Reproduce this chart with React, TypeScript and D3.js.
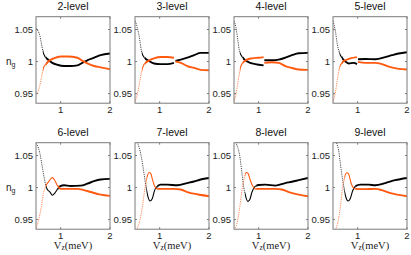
import { useEffect, useRef } from 'react';
import * as d3 from 'd3';

// panel titles
const levels = ['2-level', '3-level', '4-level', '5-level', '6-level', '7-level', '8-level', '9-level'];

const xTicks = [1, 2];
const yTicks = [0.95, 1, 1.05];
const yTickLabels = ['0.95', '1', '1.05'];

type Pt = [number, number | null];

// black curve per panel ([Vz, n_g], null = gap)
const blackSeries: Pt[][] = [
  [[0.5, 1.052], [0.54, 1.048], [0.58, 1.04], [0.61, 1.028], [0.64, 1.016], [0.68, 1.008], [0.73, 1.004], [0.83, 0.998], [0.93, 0.995], [1.07, 0.993], [1.2, 0.993], [1.34, 0.994], [1.44, 0.998], [1.54, 1.002], [1.68, 1.006], [1.81, 1.01], [2.0, 1.0125]],
  [[0.5, 1.0635], [0.547, 1.053], [0.6, 1.032], [0.628, 1.017], [0.68, 1.007], [0.78, 1.001], [0.885, 0.997], [1.02, 0.996], [1.155, 0.996], [1.29, 0.998], [1.305, null], [1.32, 1.001], [1.43, 1.003], [1.56, 1.006], [1.7, 1.01], [1.83, 1.0135], [2.0, 1.0135]],
  [[0.5, 1.0635], [0.54, 1.053], [0.58, 1.032], [0.608, 1.017], [0.66, 1.008], [0.73, 1.002], [0.83, 0.998], [0.93, 0.996], [1.1, 0.994], [1.107, null], [1.115, 1.002], [1.27, 1.002], [1.405, 1.003], [1.54, 1.006], [1.676, 1.01], [1.81, 1.013], [2.0, 1.0135]],
  [[0.5, 1.0635], [0.547, 1.048], [0.588, 1.027], [0.628, 1.014], [0.682, 1.006], [0.75, 1.0], [0.818, 0.997], [0.919, 0.998], [0.986, 0.996], [0.996, null], [1.007, 1.0035], [1.155, 1.004], [1.36, 1.0035], [1.56, 1.007], [1.7, 1.01], [1.83, 1.0125], [2.0, 1.0145]],
  [[0.5, 1.069], [0.527, 1.066], [0.58, 1.053], [0.628, 1.032], [0.662, 1.017], [0.696, 1.0035], [0.73, 0.997], [0.784, 0.993], [0.83, 0.988], [0.878, 0.991], [0.93, 0.997], [0.986, 1.002], [1.07, 1.0035], [1.2, 1.0025], [1.405, 1.003], [1.54, 1.006], [1.676, 1.01], [1.81, 1.0125], [2.0, 1.0135]],
  [[0.51, 1.074], [0.58, 1.0635], [0.628, 1.048], [0.682, 1.022], [0.723, 1.001], [0.764, 0.9855], [0.804, 0.979], [0.851, 0.983], [0.899, 0.996], [0.953, 1.002], [1.02, 1.0045], [1.155, 1.0045], [1.358, 1.0035], [1.56, 1.007], [1.696, 1.0095], [1.83, 1.0125], [2.0, 1.015]],
  [[0.5, 1.073], [0.56, 1.066], [0.608, 1.053], [0.662, 1.022], [0.696, 1.001], [0.73, 0.988], [0.777, 0.9785], [0.818, 0.981], [0.865, 0.993], [0.919, 1.001], [1.0, 1.004], [1.135, 1.0045], [1.34, 1.003], [1.54, 1.007], [1.676, 1.009], [1.81, 1.0115], [2.0, 1.015]],
  [[0.56, 1.073], [0.58, 1.068], [0.615, 1.058], [0.649, 1.0375], [0.696, 1.0115], [0.736, 0.993], [0.77, 0.983], [0.804, 0.979], [0.851, 0.983], [0.899, 0.995], [0.953, 1.002], [1.054, 1.0045], [1.22, 1.0045], [1.358, 1.0035], [1.56, 1.007], [1.76, 1.0115], [2.0, 1.015]],
];

// orange curve per panel
const orangeSeries: Pt[][] = [
  [[0.5, 0.949], [0.56, 0.957], [0.61, 0.975], [0.65, 0.99], [0.7, 0.996], [0.76, 1.001], [0.86, 1.005], [1.0, 1.008], [1.135, 1.008], [1.34, 1.006], [1.44, 1.001], [1.54, 0.997], [1.68, 0.993], [1.81, 0.991], [2.0, 0.988]],
  [[0.5, 0.9375], [0.547, 0.949], [0.6, 0.97], [0.635, 0.985], [0.68, 0.995], [0.75, 1.0], [0.885, 1.005], [1.02, 1.007], [1.155, 1.007], [1.29, 1.006], [1.305, null], [1.32, 1.0], [1.43, 0.998], [1.56, 0.993], [1.7, 0.99], [1.83, 0.987], [2.0, 0.9865]],
  [[0.5, 0.9375], [0.54, 0.949], [0.595, 0.975], [0.628, 0.99], [0.676, 0.998], [0.764, 1.003], [0.865, 1.005], [1.0, 1.006], [1.1, 1.007], [1.107, null], [1.115, 0.998], [1.27, 0.999], [1.405, 0.998], [1.54, 0.993], [1.676, 0.99], [1.81, 0.9875], [2.0, 0.987]],
  [[0.5, 0.9375], [0.547, 0.951], [0.588, 0.972], [0.628, 0.99], [0.682, 0.998], [0.75, 1.002], [0.85, 1.005], [0.986, 1.007], [0.996, null], [1.007, 0.9995], [1.155, 0.998], [1.36, 0.998], [1.49, 0.996], [1.63, 0.992], [1.83, 0.9885], [2.0, 0.9875]],
  [[0.5, 0.936], [0.56, 0.9515], [0.608, 0.97], [0.649, 0.9905], [0.696, 1.002], [0.764, 1.01], [0.83, 1.0155], [0.878, 1.0115], [0.93, 1.0035], [1.0, 0.998], [1.135, 0.998], [1.34, 0.998], [1.47, 0.996], [1.61, 0.993], [1.81, 0.989], [2.0, 0.987]],
  [[0.54, 0.936], [0.6, 0.949], [0.649, 0.97], [0.696, 0.996], [0.736, 1.014], [0.784, 1.0235], [0.818, 1.022], [0.858, 1.0115], [0.899, 1.002], [0.953, 0.998], [1.088, 0.998], [1.29, 0.998], [1.426, 0.997], [1.56, 0.993], [1.76, 0.9895], [2.0, 0.9865]],
  [[0.5, 0.934], [0.56, 0.944], [0.608, 0.9645], [0.662, 0.996], [0.703, 1.014], [0.75, 1.0235], [0.784, 1.022], [0.83, 1.0115], [0.878, 1.0025], [0.93, 0.998], [1.07, 0.998], [1.34, 0.998], [1.47, 0.997], [1.61, 0.993], [1.81, 0.989], [2.0, 0.9865]],
  [[0.547, 0.934], [0.6, 0.946], [0.649, 0.97], [0.696, 1.001], [0.736, 1.0165], [0.777, 1.023], [0.818, 1.021], [0.858, 1.009], [0.899, 1.001], [0.953, 0.998], [1.155, 0.9975], [1.358, 0.998], [1.49, 0.996], [1.63, 0.992], [1.83, 0.9885], [2.0, 0.9865]],
];

// where the curves stop being dotted / become fully thick (Vz)
const dottedUntil = [0.64, 0.64, 0.62, 0.63, 0.7, 0.73, 0.72, 0.73];
const solidFrom = [0.7, 0.7, 0.68, 0.68, 0.95, 0.95, 0.95, 0.95];

const W = 411;
const H = 255;
const panelW = 74;
const panelH = 86.5;
const lefts = [36, 135, 234, 333];
const tops = [16.7, 142.7];
const BLACK = '#000000';
const ORANGE = '#ff5a10';
const SANS = 'Liberation Sans, Arial, sans-serif';

export default function App() {
  const svgRef = useRef<SVGSVGElement>(null);

  useEffect(() => {
    const svg = d3.select(svgRef.current);
    svg.selectAll('*').remove();

    const x = d3.scaleLinear().domain([0.5, 2]).range([0, panelW]);
    const y = d3.scaleLinear().domain([0.935, 1.07]).range([panelH, 0]);

    const line = d3.line<Pt>()
      .defined(d => d[1] != null)
      .x(d => x(d[0]))
      .y(d => y(d[1] as number))
      .curve(d3.curveMonotoneX);

    const defs = svg.append('defs');

    levels.forEach((title, i) => {
      const col = i % 4;
      const row = Math.floor(i / 4);
      const g = svg.append('g').attr('transform', `translate(${lefts[col]},${tops[row]})`);

      // clip regions: dotted, medium, thick
      const parts = [
        { id: `c${i}a`, x0: 0, x1: x(dottedUntil[i]), w: 0.7, dash: '1.2,1' },
        { id: `c${i}b`, x0: x(dottedUntil[i]), x1: x(solidFrom[i]), w: 1.1, dash: null },
        { id: `c${i}c`, x0: x(solidFrom[i]), x1: panelW, w: 1.9, dash: null },
      ];
      parts.forEach(p => {
        defs.append('clipPath').attr('id', p.id)
          .append('rect')
          .attr('x', p.x0).attr('y', 0)
          .attr('width', Math.max(0, p.x1 - p.x0)).attr('height', panelH);
      });

      [[blackSeries[i], BLACK], [orangeSeries[i], ORANGE]].forEach(([data, color]) => {
        parts.forEach(p => {
          g.append('path')
            .attr('d', line(data as Pt[]))
            .attr('fill', 'none')
            .attr('stroke', color as string)
            .attr('stroke-width', p.w)
            .attr('stroke-dasharray', p.dash)
            .attr('clip-path', `url(#${p.id})`);
        });
      });

      // box
      g.append('rect')
        .attr('x', 0).attr('y', 0)
        .attr('width', panelW).attr('height', panelH)
        .attr('fill', 'none')
        .attr('stroke', '#7a7a7a')
        .attr('stroke-width', 1);

      // inner ticks
      xTicks.forEach(t => {
        g.append('line').attr('x1', x(t)).attr('x2', x(t)).attr('y1', panelH).attr('y2', panelH - 2)
          .attr('stroke', '#7a7a7a');
        g.append('line').attr('x1', x(t)).attr('x2', x(t)).attr('y1', 0).attr('y2', 2)
          .attr('stroke', '#7a7a7a');
        g.append('text')
          .attr('x', x(t)).attr('y', panelH + 9.5)
          .attr('text-anchor', 'middle')
          .attr('font-family', SANS).attr('font-size', 9.5).attr('fill', '#222')
          .text(String(t));
      });
      yTicks.forEach((t, k) => {
        g.append('line').attr('x1', 0).attr('x2', 2).attr('y1', y(t)).attr('y2', y(t))
          .attr('stroke', '#7a7a7a');
        g.append('line').attr('x1', panelW).attr('x2', panelW - 2).attr('y1', y(t)).attr('y2', y(t))
          .attr('stroke', '#7a7a7a');
        g.append('text')
          .attr('x', -3).attr('y', y(t) + 3.4)
          .attr('text-anchor', 'end')
          .attr('font-family', SANS).attr('font-size', 9.5).attr('fill', '#222')
          .text(yTickLabels[k]);
      });

      g.append('text')
        .attr('x', panelW / 2).attr('y', -6.5)
        .attr('text-anchor', 'middle')
        .attr('font-family', SANS).attr('font-size', 10.5).attr('fill', '#111')
        .text(title);

      if (col === 0) {
        const t = g.append('text')
          .attr('x', -30).attr('y', y(1) + 3)
          .attr('font-family', SANS).attr('font-size', 10).attr('fill', '#222');
        t.append('tspan').text('n');
        t.append('tspan').attr('font-size', 7).attr('dy', 2).text('g');
      }

      if (row === 1) {
        const t = g.append('text')
          .attr('x', panelW / 2).attr('y', panelH + 19.5)
          .attr('text-anchor', 'middle')
          .attr('font-family', 'Liberation Serif, Times New Roman, serif').attr('font-size', 10.5).attr('fill', '#222');
        t.append('tspan').text('V');
        t.append('tspan').attr('font-size', 7.5).attr('dy', 1.2).text('z');
        t.append('tspan').attr('dy', -1.2).text('(meV)');
      }
    });
  }, []);

  return (
    <svg
      ref={svgRef}
      width={W}
      height={H}
      style={{ position: 'absolute', left: 0, top: 0, background: '#fff' }}
    />
  );
}
